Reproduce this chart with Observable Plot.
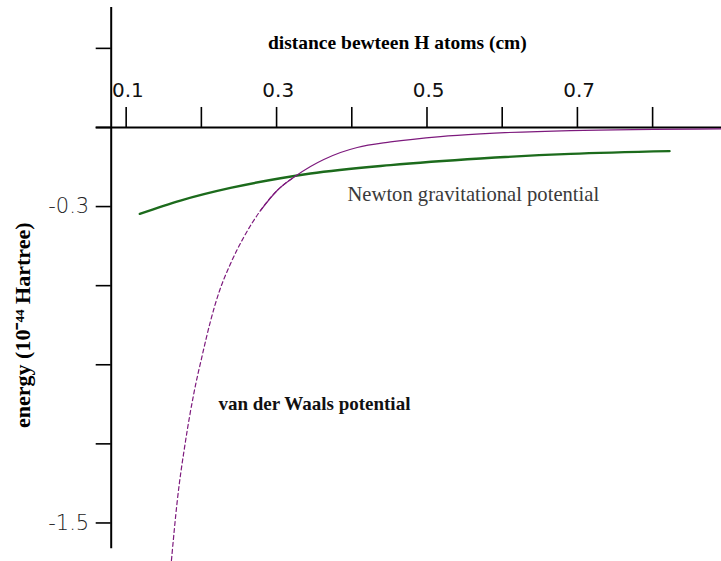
<!DOCTYPE html>
<html>
<head>
<meta charset="utf-8">
<script src="https://cdn.jsdelivr.net/npm/d3@7"></script>
<script src="https://cdn.jsdelivr.net/npm/@observablehq/plot@0.6"></script>
<style>
  html, body { margin: 0; padding: 0; background: #fff; }
  #chart svg { display: block; }
</style>
</head>
<body>
<div id="chart"></div>
<script>
// ---- data ----
const xDomain = [0.0801, 0.8916];
const yDomain = [-1.598, 0.455];
const xTicks = [0.1, 0.2, 0.3, 0.4, 0.5, 0.6, 0.7, 0.8];
const xTickLabels = [0.1, 0.3, 0.5, 0.7];
const yTicks = [0.3, 0, -0.3, -0.6, -0.9, -1.2, -1.5];
const yTickLabels = [-0.3, -1.5];

// Newton gravitational potential
const newtonX = [0.1181, 0.1722, 0.2387, 0.3052, 0.3451, 0.4515, 0.5711, 0.6908, 0.8225];
const newtonY = [-0.3276, -0.2772, -0.2293, -0.1927, -0.1747, -0.1428, -0.1177, -0.1003, -0.0898];

// van der Waals potential
const vdwX = [0.1602, 0.1678, 0.1789, 0.1899, 0.2011, 0.2121, 0.2231, 0.2387, 0.2564, 0.2786, 0.3008,
              0.3229, 0.3451, 0.3628, 0.3850, 0.4072, 0.4515, 0.5180, 0.5711, 0.6908, 0.8916];
const vdwY = [-1.642, -1.42, -1.19, -1.01, -0.865, -0.735, -0.628, -0.517, -0.416, -0.315, -0.239,
              -0.189, -0.148, -0.1215, -0.095, -0.076, -0.055, -0.0345, -0.0243, -0.0118, -0.0053];
// dashed lower part / solid upper part (they overlap by a couple of points so the joins stay smooth)
const vdwDashUpTo = 0.3229;
const vdwSolidFrom = 0.2786;

const xTitle = "distance bewteen H atoms (cm)";
const yTitle = "energy (10\u207B\u2074\u2074 Hartree)";
const newtonLabel = "Newton gravitational potential";
const vdwLabel = "van der Waals potential";

// ---- build tables ----
const zip = (xs, ys) => xs.map((x, i) => ({x, y: ys[i]}));
const newton = zip(newtonX, newtonY);
const vdw = zip(vdwX, vdwY);
const vdwDash = vdw.filter(d => d.x <= vdwDashUpTo);
const vdwSolid = vdw.filter(d => d.x >= vdwSolidFrom);

const serif = "'Liberation Serif', 'Times New Roman', serif";
const sans = "'DejaVu Sans', sans-serif";

const chart = Plot.plot({
  width: 721,
  height: 561,
  marginLeft: 110.7,
  marginRight: 0,
  marginTop: 7,
  marginBottom: 12.7,
  x: {domain: xDomain, axis: null},
  y: {domain: yDomain, axis: null},
  marks: [
    // vertical axis line
    Plot.ruleX([xDomain[0]], {stroke: "#000", strokeWidth: 2}),
    // zero line (x axis)
    Plot.ruleY([0], {stroke: "#000", strokeWidth: 2, insetLeft: -15}),
    // x ticks (upward from zero line)
    Plot.ruleX(xTicks, {x: d => d, y1: 0, y2: 0, insetTop: -20, stroke: "#000", strokeWidth: 1.6}),
    // x tick labels
    Plot.text(xTickLabels, {
      x: d => d, y: 0, text: d => d.toFixed(1), dy: -37, dx: 1.7,
      fontSize: 20, fontFamily: sans, fill: "#111", ariaLabel: "xlabels"
    }),
    // y axis ticks
    Plot.ruleY(yTicks, {x1: xDomain[0], x2: xDomain[0], y: d => d, insetLeft: -15, stroke: "#000", strokeWidth: 1.6}),
    // y tick labels
    Plot.text(yTickLabels, {
      x: xDomain[0], y: d => d, text: d => d.toFixed(1), dx: -22, textAnchor: "end", lineAnchor: "middle",
      fontSize: 21, fontFamily: sans, fontWeight: 200, fill: "#222"
    }),
    // curves
    Plot.line(newton, {x: "x", y: "y", stroke: "#1c6b1c", strokeWidth: 2.4, curve: "monotone-x"}),
    Plot.line(vdwDash, {x: "x", y: "y", stroke: "#7d1a7d", strokeWidth: 1.2, strokeDasharray: "4,3", curve: "monotone-x"}),
    Plot.line(vdwSolid, {x: "x", y: "y", stroke: "#7d1a7d", strokeWidth: 1.2, curve: "monotone-x"}),
    // titles
    Plot.text([xTitle], {
      frameAnchor: "top", dx: -19, dy: 35, lineAnchor: "middle",
      fontSize: 19.5, fontWeight: "bold", fontFamily: serif, fill: "#000"
    }),
    Plot.text([yTitle], {
      x: -0.0379, y: -0.75, rotate: -90, lineAnchor: "middle",
      fontSize: 22, fontWeight: "bold", fontFamily: serif, fill: "#000"
    }),
    // annotations
    Plot.text([newtonLabel], {
      x: 0.3943, y: -0.2545, textAnchor: "start", lineAnchor: "middle",
      fontSize: 20.6, fontFamily: serif, fill: "#3a3a3a"
    }),
    Plot.text([vdwLabel], {
      x: 0.2227, y: -1.047, textAnchor: "start", lineAnchor: "middle",
      fontSize: 19, fontWeight: "bold", fontFamily: serif, fill: "#111"
    })
  ]
});

d3.select(chart).selectAll('g[aria-label="xlabels"] text').attr("letter-spacing", "3.5px");
document.getElementById("chart").appendChild(chart);
</script>
</body>
</html>
